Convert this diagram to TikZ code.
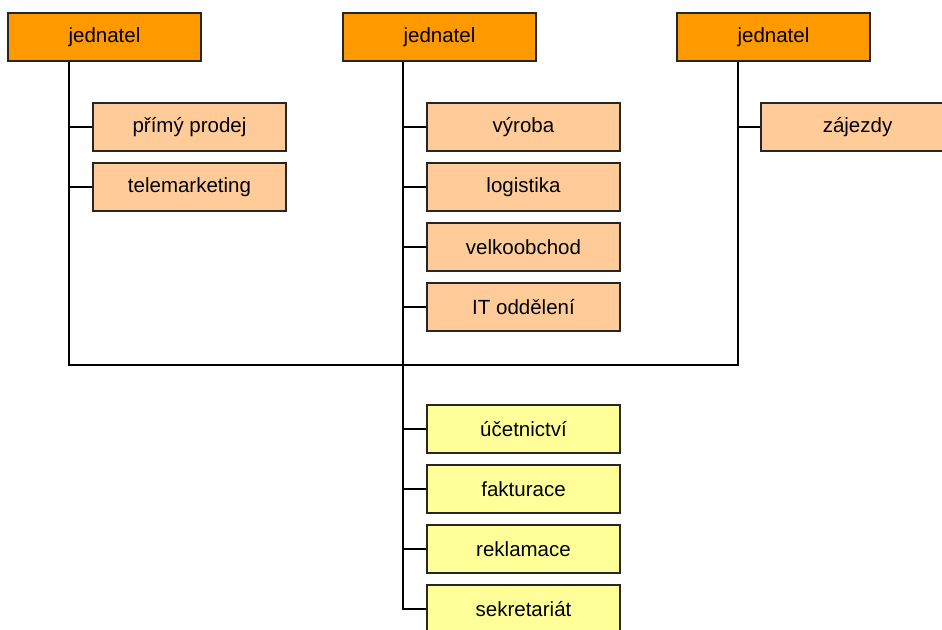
\documentclass[tikz,border=0pt]{standalone}
\usepackage{fontspec}
\setmainfont{Liberation Sans}
\usepackage{xcolor,tikz}
\definecolor{headorange}{HTML}{FF9900}
\definecolor{deptorange}{HTML}{FFCC99}
\definecolor{deptyellow}{HTML}{FFFF99}

\begin{document}
\begin{tikzpicture}[x=1pt,y=-1pt,line width=1.3pt,
  box/.style={draw=black!85,minimum width=193pt,minimum height=48pt,inner sep=0pt,
    font=\fontsize{20.5}{24}\selectfont},
  head/.style={box,fill=headorange},
  dept/.style={box,fill=deptorange},
  staff/.style={box,fill=deptyellow}]
\clip (0,0) rectangle (942,629);
\fill[white] (0,0) rectangle (942,629);
% heads
\node[head] (j1) at (104.5,37) {jednatel};
\node[head] (j2) at (439.5,37) {jednatel};
\node[head] (j3) at (773.5,37) {jednatel};
% departments
\node[dept] (prodej) at (189.5,127) {přímý prodej};
\node[dept] (tele) at (189.5,187) {telemarketing};
\node[dept] (vyroba) at (523.5,127) {výroba};
\node[dept] (logist) at (523.5,187) {logistika};
\node[dept] (velko) at (523.5,247) {velkoobchod};
\node[dept] (itodd) at (523.5,307) {IT oddělení};
\node[dept] (zajezdy) at (857.5,127) {zájezdy};
% common staff
\node[staff] (ucet) at (523.5,429) {účetnictví};
\node[staff] (faktur) at (523.5,489) {fakturace};
\node[staff] (reklam) at (523.5,549) {reklamace};
\node[staff] (sekret) at (523.5,609) {sekretariát};
% trunks
\coordinate (t1) at (69,365);
\coordinate (t2) at (403,365);
\coordinate (t3) at (738,365);
\draw (j1.south -| t1) -- (t1) -- (t3) -- (j3.south -| t3);
\draw (j2.south -| t2) -- (sekret.west -| t2) -- (sekret.west);
\draw (prodej.west -| t1) -- (prodej.west);
\draw (tele.west -| t1) -- (tele.west);
\draw (vyroba.west -| t2) -- (vyroba.west);
\draw (logist.west -| t2) -- (logist.west);
\draw (velko.west -| t2) -- (velko.west);
\draw (itodd.west -| t2) -- (itodd.west);
\draw (zajezdy.west -| t3) -- (zajezdy.west);
\draw (ucet.west -| t2) -- (ucet.west);
\draw (faktur.west -| t2) -- (faktur.west);
\draw (reklam.west -| t2) -- (reklam.west);
\end{tikzpicture}
\end{document}
